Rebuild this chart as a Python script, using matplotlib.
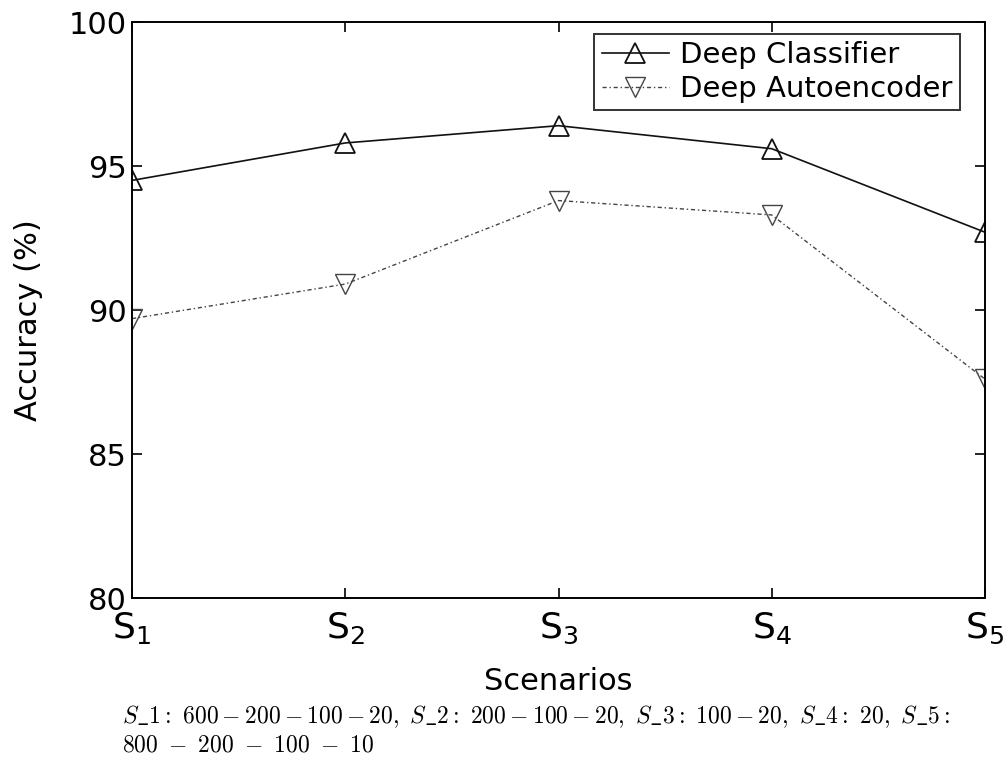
import matplotlib
matplotlib.use("Agg")
import matplotlib.pyplot as plt

scenarios = ["$\\mathregular{S_1}$", "$\\mathregular{S_2}$", "$\\mathregular{S_3}$", "$\\mathregular{S_4}$", "$\\mathregular{S_5}$"]
classifier = [94.5, 95.8, 96.4, 95.6, 92.7]
autoencoder = [89.7, 90.9, 93.8, 93.3, 87.6]
yticks = [80, 85, 90, 95, 100]
caption1 = r"$S\_1:\ 600-200-100-20,\ S\_2:\ 200-100-20,\ S\_3:\ 100-20,\ S\_4:\ 20,\ S\_5:$"
caption2 = r"$800\ -\ 200\ -\ 100\ -\ 10$"

plt.rcParams['mathtext.fontset'] = 'dejavusans'
fig = plt.figure(figsize=(10.05, 7.6), dpi=100)
ax = fig.add_axes([132/1005, 1 - 598/760, (985-132)/1005, (598-22)/760])

x = list(range(len(scenarios)))
ax.plot(x, classifier, color='#111111', lw=1.2, marker='^', ms=14, mfc='none',
        mec='#111111', mew=1.3, label='Deep Classifier')
ax.plot(x, autoencoder, color='#444444', lw=1.0, ls=(0, (3, 2, 1, 2)), marker='v', ms=14,
        mfc='none', mec='#444444', mew=1.0, label='Deep Autoencoder')

ax.set_xlim(0, 4)
ax.set_ylim(80, 100)
ax.set_yticks(yticks)
ax.set_xticks(x)
ax.set_xticklabels(scenarios, fontsize=26)
ax.tick_params(axis='y', labelsize=22)
ax.tick_params(direction='in', top=True, right=True, length=7, width=1.2)
ax.tick_params(axis='x', pad=9)
for s in ax.spines.values():
    s.set_linewidth(1.4)

ax.set_ylabel('Accuracy (%)', fontsize=22)
ax.yaxis.set_label_coords((29-132)/853, (598-320)/576)
ax.yaxis.label.set_va('center')
ax.set_xlabel('Scenarios', fontsize=22)
ax.xaxis.set_label_coords(0.5, -(682-598)/576)
ax.xaxis.label.set_va('center')

leg = ax.legend(loc='upper right', bbox_to_anchor=((960-132)/853, (598-34)/576),
                fontsize=21, frameon=True, fancybox=False,
                edgecolor='black', borderaxespad=0.0, handlelength=2.3,
                handletextpad=0.4, borderpad=0.25, labelspacing=0.2)
leg.get_frame().set_linewidth(1.4)

fig.text(122/1005, 1 - 717/760, caption1,
         fontsize=17, math_fontfamily='cm', va='center', ha='left')
fig.text(122/1005, 1 - 744/760, caption2,
         fontsize=17, math_fontfamily='cm', va='center', ha='left')

fig.savefig('out.png', dpi=100)
